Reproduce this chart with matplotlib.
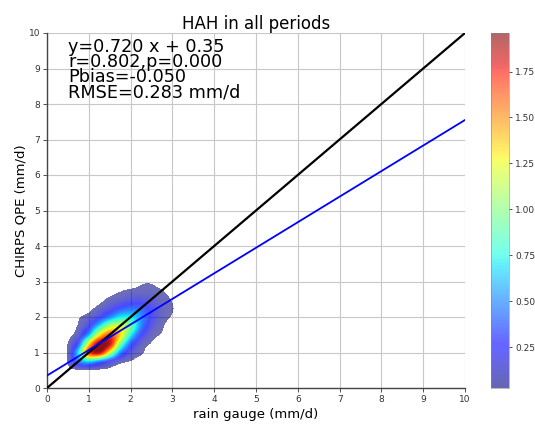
import numpy as np
import matplotlib
matplotlib.use("Agg")
import matplotlib.pyplot as plt
from matplotlib.colors import ListedColormap, Normalize
from matplotlib.cm import ScalarMappable

# density of the point cloud (kde value, same units as the colorbar)
grid_x = [0.25, 0.5, 0.75, 1.0, 1.25, 1.5, 1.75, 2.0, 2.25, 2.5, 2.75, 3.0, 3.25, 3.5]
grid_y = [0.25, 0.5, 0.75, 1.0, 1.25, 1.5, 1.75, 2.0, 2.25, 2.5, 2.75, 3.0, 3.25]
density = [
    [0.00, 0.00, 0.00, 0.00, 0.00, 0.00, 0.00, 0.00, 0.00, 0.00, 0.00, 0.00, 0.00, 0.00],
    [0.00, 0.00, 0.00, 0.00, 0.00, 0.00, 0.00, 0.00, 0.00, 0.00, 0.00, 0.00, 0.00, 0.00],
    [0.00, 0.04, 0.45, 0.65, 0.45, 0.22, 0.07, 0.02, 0.00, 0.00, 0.00, 0.00, 0.00, 0.00],
    [0.00, 0.05, 0.70, 1.65, 1.85, 1.20, 0.50, 0.15, 0.04, 0.00, 0.00, 0.00, 0.00, 0.00],
    [0.00, 0.03, 0.35, 1.30, 1.95, 1.85, 1.00, 0.38, 0.10, 0.02, 0.00, 0.00, 0.00, 0.00],
    [0.00, 0.00, 0.12, 0.60, 1.30, 1.65, 1.35, 0.75, 0.28, 0.07, 0.02, 0.00, 0.00, 0.00],
    [0.00, 0.00, 0.04, 0.25, 0.70, 1.10, 1.20, 0.95, 0.48, 0.16, 0.04, 0.00, 0.00, 0.00],
    [0.00, 0.00, 0.02, 0.08, 0.25, 0.50, 0.72, 0.72, 0.52, 0.24, 0.07, 0.02, 0.00, 0.00],
    [0.00, 0.00, 0.00, 0.00, 0.07, 0.18, 0.32, 0.42, 0.38, 0.22, 0.08, 0.03, 0.00, 0.00],
    [0.00, 0.00, 0.00, 0.00, 0.00, 0.05, 0.10, 0.16, 0.17, 0.12, 0.06, 0.02, 0.00, 0.00],
    [0.00, 0.00, 0.00, 0.00, 0.00, 0.00, 0.02, 0.04, 0.05, 0.05, 0.03, 0.00, 0.00, 0.00],
    [0.00, 0.00, 0.00, 0.00, 0.00, 0.00, 0.00, 0.00, 0.02, 0.02, 0.00, 0.00, 0.00, 0.00],
    [0.00, 0.00, 0.00, 0.00, 0.00, 0.00, 0.00, 0.00, 0.00, 0.00, 0.00, 0.00, 0.00, 0.00],
]

one_to_one_x = [0, 10]
one_to_one_y = [0, 10]
fit_x = [0, 10]
fit_y = [0.35, 7.55]

stats_text = ["y=0.720 x + 0.35", "r=0.802,p=0.000", "Pbias=-0.050", "RMSE=0.283 mm/d"]
cbar_ticks = [0.25, 0.50, 0.75, 1.00, 1.25, 1.50, 1.75]
kde_min, kde_max = 0.027, 1.96

fig = plt.figure(figsize=(5.35, 4.25), dpi=100)
ax = fig.add_axes([47 / 535, 37 / 425, 418 / 535, 355 / 425])
cax = fig.add_axes([491 / 535, 37 / 425, 18 / 535, 355 / 425])

norm = Normalize(kde_min, kde_max)
dens = np.array(density)
cmap = plt.get_cmap("jet").copy()
cmap.set_under((1, 1, 1, 0))
half = 0.125
ext = [grid_x[0] - half, grid_x[-1] + half, grid_y[0] - half, grid_y[-1] + half]
ax.imshow(dens, origin="lower", extent=ext, cmap=cmap, norm=norm,
          interpolation="catrom", alpha=np.clip(0.55 + dens * 0.6, 0, 0.92),
          aspect="auto", zorder=2)

ax.plot(one_to_one_x, one_to_one_y, color="black", lw=1.6, zorder=3)
ax.plot(fit_x, fit_y, color="blue", lw=1.3, zorder=3)

ax.set_xlim(0, 10)
ax.set_ylim(0, 10)
ax.set_xticks(range(11))
ax.set_yticks(range(11))
ax.grid(True, color="#c8c8c8", lw=0.8, zorder=0)
ax.set_axisbelow(True)
ax.tick_params(labelsize=6.5, length=3, width=0.6, colors="#333333", pad=2)
for side in ["top", "right"]:
    ax.spines[side].set_visible(False)
for side in ["left", "bottom"]:
    ax.spines[side].set_color("#444444")
    ax.spines[side].set_linewidth(1.0)

ax.set_title("HAH in all periods", fontsize=12, pad=3)
ax.set_xlabel("rain gauge (mm/d)", fontsize=9.5, labelpad=3)
ax.set_ylabel("CHIRPS QPE (mm/d)", fontsize=9.5, labelpad=1)
ax.text(0.05, 0.985, "\n".join(stats_text), transform=ax.transAxes, fontsize=12.7,
        va="top", ha="left", linespacing=0.78, zorder=4)

jet = plt.get_cmap("jet")(np.linspace(0, 1, 256))
jet[:, 3] = 0.6
sm = ScalarMappable(norm=norm, cmap=ListedColormap(jet))
cb = fig.colorbar(sm, cax=cax, ticks=cbar_ticks)
cb.ax.set_yticklabels([f"{t:.2f}" for t in cbar_ticks])
cb.ax.tick_params(labelsize=6.5, length=2.5, width=0.6, colors="#333333", pad=2)
cb.outline.set_linewidth(0.4)
cb.outline.set_edgecolor("#888888")

fig.savefig("out.png", dpi=100)
